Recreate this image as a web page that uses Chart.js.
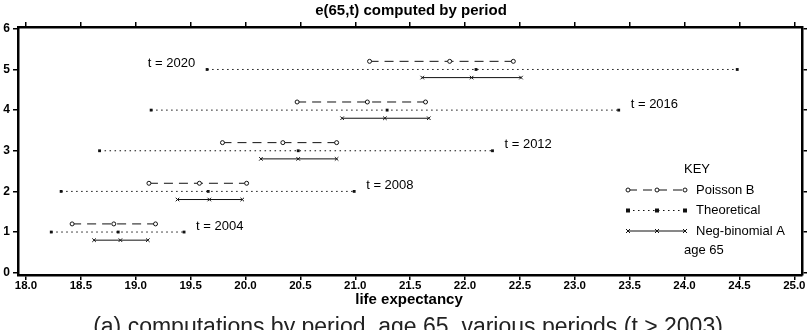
<!DOCTYPE html>
<html>
<head>
<meta charset="utf-8">
<script src="https://cdn.jsdelivr.net/npm/chart.js@4.4.1/dist/chart.umd.min.js"></script>
<style>
  html, body { margin: 0; padding: 0; background: #fff; }
  #wrap { width: 812px; height: 330px; }
</style>
</head>
<body>
<div id="wrap"><canvas id="periodChart" width="812" height="330"></canvas></div>
<script>
// periods and the row each one sits on
const periods = [2004, 2008, 2012, 2016, 2020];
const periodRow = [1, 2, 3, 4, 5];
const labelSide = ["right", "right", "right", "right", "left"];

// Theoretical (dotted, squares)
const theoLow  = [18.23, 18.32, 18.67, 19.14, 19.65];
const theoMid  = [18.84, 19.66, 20.48, 21.29, 22.10];
const theoHigh = [19.44, 20.99, 22.25, 23.40, 24.48];

// Poisson B (dashed, circles), drawn a bit above the row
const poissonLow  = [18.42, 19.12, 19.79, 20.47, 21.13];
const poissonMid  = [18.80, 19.58, 20.34, 21.11, 21.86];
const poissonHigh = [19.18, 20.01, 20.83, 21.64, 22.44];

// Neg-binomial A (solid, crosses), drawn a bit below the row
const negbinLow  = [18.62, 19.38, 20.14, 20.88, 21.61];
const negbinMid  = [18.86, 19.67, 20.48, 21.27, 22.06];
const negbinHigh = [19.11, 19.97, 20.83, 21.67, 22.51];

const xTicks = [18.0, 18.5, 19.0, 19.5, 20.0, 20.5, 21.0, 21.5, 22.0, 22.5, 23.0, 23.5, 24.0, 24.5, 25.0];
const yTicks = [0, 1, 2, 3, 4, 5, 6];

const chartTitle = "e(65,t) computed by period";
const xAxisTitle = "life expectancy";
const caption = "(a) computations by period, age 65, various periods (t > 2003)";

const FONT = '"Liberation Sans", Arial, sans-serif';

function rowPoints(low, mid, high, offset) {
    const pts = [];
    low.forEach((v, i) => {
        const y = periodRow[i] + offset;
        pts.push({ x: low[i], y: y }, { x: mid[i], y: y }, { x: high[i], y: y });
        pts.push({ x: high[i], y: null }); // break between periods
    });
    return pts;
}

function drawMarker(ctx, style, x, y) {
    ctx.save();
    ctx.setLineDash([]);
    ctx.lineWidth = 1;
    ctx.strokeStyle = "#111";
    ctx.fillStyle = "#111";
    if (style === "circle") {
        ctx.fillStyle = "#fff";
        ctx.beginPath();
        ctx.arc(x, y, 2, 0, Math.PI * 2);
        ctx.fill();
        ctx.stroke();
    } else if (style === "rect") {
        ctx.fillRect(x - 2, y - 2, 4, 4);
    } else {
        ctx.beginPath();
        ctx.moveTo(x - 2, y - 2); ctx.lineTo(x + 2, y + 2);
        ctx.moveTo(x + 2, y - 2); ctx.lineTo(x - 2, y + 2);
        ctx.stroke();
    }
    ctx.restore();
}

const keyRows = [
    { label: "Poisson B", dash: [9, 6], marker: "circle" },
    { label: "Theoretical", dash: [1.5, 3.5], marker: "rect" },
    { label: "Neg-binomial A", dash: [], marker: "cross" }
];

const annotate = {
    id: "annotate",
    afterDraw(chart) {
        const ctx = chart.ctx;
        const xs = chart.scales.x, ys = chart.scales.y;
        ctx.save();
        ctx.fillStyle = "#000";
        ctx.textAlign = "center";
        ctx.textBaseline = "middle";
        ctx.font = "bold 15px " + FONT;
        ctx.fillText(chartTitle, 411, 11);
        ctx.fillText(xAxisTitle, 409, 300);
        ctx.font = "23px " + FONT;
        ctx.fillStyle = "#222";
        ctx.textBaseline = "alphabetic";
        ctx.fillText(caption, 408, 334);

        // period labels
        ctx.textBaseline = "middle";
        ctx.fillStyle = "#000";
        ctx.font = "13px " + FONT;
        periods.forEach((p, i) => {
            const y = ys.getPixelForValue(periodRow[i]) - 6;
            if (labelSide[i] === "left") {
                ctx.textAlign = "right";
                ctx.fillText("t = " + p, xs.getPixelForValue(theoLow[i]) - 12, y);
            } else {
                ctx.textAlign = "left";
                ctx.fillText("t = " + p, xs.getPixelForValue(theoHigh[i]) + 12, y);
            }
        });

        // key
        ctx.textAlign = "left";
        ctx.fillText("KEY", 684, 169);
        keyRows.forEach((row, i) => {
            const y = 190 + i * 20.5;
            ctx.save();
            ctx.strokeStyle = "#111";
            ctx.lineWidth = 1;
            ctx.setLineDash(row.dash);
            ctx.beginPath();
            ctx.moveTo(628, y);
            ctx.lineTo(685, y);
            ctx.stroke();
            ctx.restore();
            [628, 657, 685].forEach(x => drawMarker(ctx, row.marker, x, y));
            ctx.fillText(row.label, 696, y);
        });
        ctx.fillText("age 65", 684, 250);
        ctx.restore();
    }
};

const axisGrid = { drawOnChartArea: false, drawTicks: true, tickLength: 5, color: "#000", lineWidth: 1.5 };
const axisBorder = { display: true, color: "#000", width: 2.5 };
const tickFont = { family: FONT, size: 11.5, weight: "bold" };

new Chart(document.getElementById("periodChart").getContext("2d"), {
    type: "line",
    data: {
        datasets: [
            {
                label: "Poisson B",
                data: rowPoints(poissonLow, poissonMid, poissonHigh, 0.2),
                borderColor: "#111",
                borderWidth: 1,
                borderDash: [9, 6],
                pointStyle: "circle",
                pointRadius: 2,
                pointBorderWidth: 1,
                pointBorderColor: "#111",
                pointBackgroundColor: "#fff"
            },
            {
                label: "Theoretical",
                data: rowPoints(theoLow, theoMid, theoHigh, 0),
                borderColor: "#111",
                borderWidth: 1,
                borderDash: [1.5, 3.5],
                pointStyle: "rect",
                pointRadius: 2,
                pointBorderWidth: 0,
                pointBackgroundColor: "#111"
            },
            {
                label: "Neg-binomial A",
                data: rowPoints(negbinLow, negbinMid, negbinHigh, -0.2),
                borderColor: "#111",
                borderWidth: 1,
                pointStyle: "crossRot",
                pointRadius: 2.5,
                pointBorderWidth: 1,
                pointBorderColor: "#111"
            }
        ]
    },
    options: {
        responsive: false,
        animation: false,
        devicePixelRatio: 1,
        spanGaps: false,
        layout: { padding: { top: 21, right: 4, left: 0, bottom: 0 } },
        plugins: { legend: { display: false }, tooltip: { enabled: false }, title: { display: false } },
        scales: {
            x: {
                type: "linear", position: "bottom", min: 17.927, max: 25.07,
                afterBuildTicks: s => { s.ticks = xTicks.map(v => ({ value: v })); },
                ticks: { callback: v => Number(v).toFixed(1), font: tickFont, color: "#000", padding: -1, maxRotation: 0, autoSkip: false },
                grid: axisGrid, border: axisBorder,
                afterFit: s => { s.height = 55; }
            },
            xTop: {
                type: "linear", position: "top", min: 17.927, max: 25.07,
                afterBuildTicks: s => { s.ticks = xTicks.map(v => ({ value: v })); },
                ticks: { display: false },
                grid: axisGrid, border: axisBorder,
                afterFit: s => { s.height = 6; }
            },
            y: {
                type: "linear", position: "left", min: -0.057, max: 6.045,
                afterBuildTicks: s => { s.ticks = yTicks.map(v => ({ value: v })); },
                ticks: { font: { family: FONT, size: 12, weight: "bold" }, color: "#000", padding: 3 },
                grid: axisGrid, border: axisBorder,
                afterFit: s => { s.width = 18; }
            },
            yRight: {
                type: "linear", position: "right", min: -0.057, max: 6.045,
                afterBuildTicks: s => { s.ticks = yTicks.map(v => ({ value: v })); },
                ticks: { display: false },
                grid: axisGrid, border: axisBorder,
                afterFit: s => { s.width = 6; }
            }
        }
    },
    plugins: [annotate]
});
</script>
</body>
</html>
